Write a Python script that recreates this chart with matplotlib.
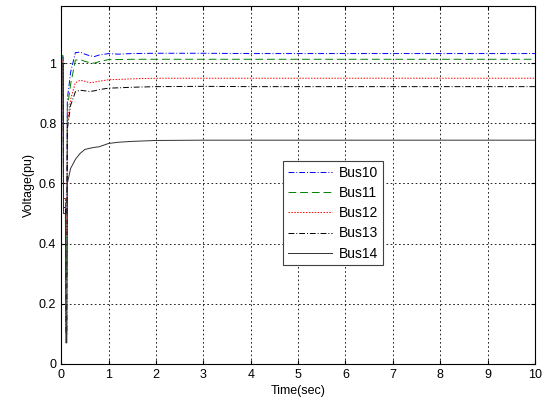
import numpy as np
import matplotlib
matplotlib.use('Agg')
import matplotlib.pyplot as plt

plt.rcParams['font.family'] = ['Liberation Sans', 'DejaVu Sans']

# time axis (sec) and bus voltages (pu)
t = [0, 0.04, 0.05, 0.09, 0.1, 0.12, 0.13, 0.2, 0.3, 0.4, 0.5, 0.6, 0.7,
     0.8, 1.0, 1.2, 1.5, 2.0, 3.0, 4.0, 6.0, 8.0, 10.0]
bus10 = [1.02, 1.02, 0.55, 0.55, 0.5, 0.5, 0.88, 0.97, 1.035, 1.037, 1.03, 1.025,
         1.022, 1.027, 1.032, 1.03, 1.032, 1.033, 1.033, 1.032, 1.032, 1.032, 1.032]
bus11 = [1.025, 1.025, 0.55, 0.55, 0.28, 0.28, 0.85, 0.93, 1.01, 1.012, 1.006, 1.002,
         1.0, 1.005, 1.012, 1.012, 1.013, 1.013, 1.013, 1.013, 1.013, 1.013, 1.013]
bus12 = [1.01, 1.01, 0.55, 0.55, 0.43, 0.43, 0.8, 0.88, 0.935, 0.943, 0.94, 0.935,
         0.937, 0.94, 0.945, 0.946, 0.948, 0.95, 0.95, 0.95, 0.95, 0.95, 0.95]
bus13 = [1.0, 1.0, 0.52, 0.52, 0.1, 0.1, 0.78, 0.86, 0.905, 0.91, 0.908, 0.906,
         0.908, 0.912, 0.917, 0.918, 0.92, 0.922, 0.923, 0.922, 0.922, 0.922, 0.922]
bus14 = [1.0, 1.0, 0.5, 0.5, 0.07, 0.07, 0.6, 0.65, 0.68, 0.7, 0.713, 0.717,
         0.72, 0.722, 0.733, 0.737, 0.74, 0.743, 0.744, 0.744, 0.744, 0.744, 0.744]

names = ['Bus10', 'Bus11', 'Bus12', 'Bus13', 'Bus14']
xticks = np.arange(0, 11, 1)
yticks = [0, 0.2, 0.4, 0.6, 0.8, 1]
yticklabels = ['0', '0.2', '0.4', '0.6', '0.8', '1']

fig = plt.figure(figsize=(5.51, 4.03), dpi=100)
ax = fig.add_axes([0.111, 0.097, 0.860, 0.888])

styles = [
    dict(color='#0000ff', linestyle=(0, (6, 2, 1, 2))),
    dict(color='#008000', linestyle=(0, (8, 4))),
    dict(color='#ff0000', linestyle=(0, (1.5, 1.5))),
    dict(color='#000000', linestyle=(0, (6, 2, 1, 2))),
    dict(color='#303030', linestyle='-'),
]
for y, name, st in zip([bus10, bus11, bus12, bus13, bus14], names, styles):
    ax.plot(t, y, linewidth=0.7, label=name, **st)

ax.set_xlim(0, 10)
ax.set_ylim(0, 1.19)
ax.set_xticks(xticks)
ax.set_xticklabels([str(v) for v in xticks])
ax.set_yticks(yticks)
ax.set_yticklabels(yticklabels)
ax.tick_params(direction='in', top=True, right=True, labelsize=9, length=3)
ax.grid(True, color='black', linestyle=(0, (2, 3)), linewidth=0.6)
for s in ax.spines.values():
    s.set_linewidth(0.8)

ax.set_xlabel('Time(sec)', fontsize=9, labelpad=3)
ax.set_ylabel('Voltage(pu)', fontsize=9, labelpad=3)

leg = ax.legend(loc='lower left', bbox_to_anchor=(0.468, 0.275), fontsize=10,
                fancybox=False, framealpha=1, edgecolor='#404040',
                handlelength=3.2, handletextpad=0.5, borderpad=0.35,
                labelspacing=0.45, borderaxespad=0)
leg.get_frame().set_linewidth(0.8)

fig.savefig('out.png', dpi=100)
